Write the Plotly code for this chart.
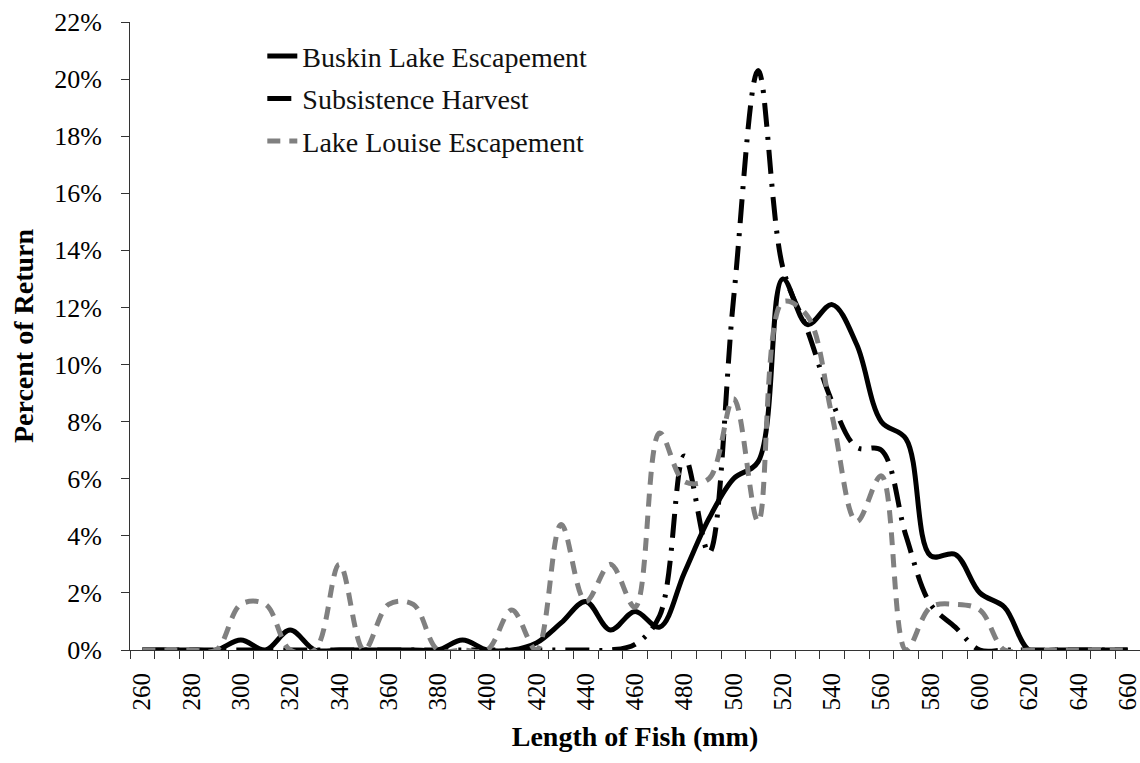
import plotly.graph_objects as go

lengths = [260, 270, 280, 290, 300, 310, 320, 330, 340, 350, 360, 370, 380, 390, 400,
           410, 420, 430, 440, 450, 460, 470, 480, 490, 500, 510, 520, 530, 540, 550,
           560, 570, 580, 590, 600, 610, 620, 630, 640, 650, 660]

buskin = [0, 0, 0, 0, 0.35, 0, 0.7, 0, 0, 0, 0, 0, 0, 0.35, 0,
          0, 0.25, 0.95, 1.7, 0.7, 1.35, 0.8, 2.7, 4.6, 6.0, 6.6, 13.0, 11.4, 12.1, 10.7,
          8.0, 7.4, 3.3, 3.35, 2.0, 1.5, 0, 0, 0, 0, 0]

subsistence = [0, 0, 0, 0, 0, 0, 0, 0, 0, 0, 0, 0, 0, 0, 0,
               0, 0, 0, 0, 0, 0.2, 1.2, 6.8, 3.4, 12.3, 20.3, 13.4, 11.2, 8.7, 7.1,
               7.0, 4.0, 1.6, 0.8, 0, 0, 0, 0, 0, 0, 0]

louise = [0, 0, 0, 0, 1.6, 1.6, 0, 0, 3.0, 0, 1.6, 1.6, 0, 0, 0,
          1.4, 0, 4.4, 1.7, 3.0, 1.5, 7.6, 5.9, 6.0, 8.8, 4.5, 12.2, 11.7, 8.2, 4.5,
          6.1, 0, 1.5, 1.6, 1.4, 0, 0, 0, 0, 0, 0]

x_labels = [260, 280, 300, 320, 340, 360, 380, 400, 420, 440, 460, 480, 500, 520,
            540, 560, 580, 600, 620, 640, 660]
y_ticks = [0, 2, 4, 6, 8, 10, 12, 14, 16, 18, 20, 22]
boundaries = [v - 5 for v in lengths] + [lengths[-1] + 5]

FONT = "Liberation Serif"

fig = go.Figure()
fig.add_trace(go.Scatter(x=lengths, y=buskin, mode="lines", name="Buskin Lake Escapement",
                         legendgroup="a",
                         line=dict(color="black", width=5, shape="spline", smoothing=1.0)))
fig.add_trace(go.Scatter(x=lengths, y=subsistence, mode="lines", name="Subsistence Harvest",
                         legendgroup="b",
                         line=dict(color="black", width=5, shape="spline", smoothing=1.0,
                                   dash="24px,10px,3px,10px")))
fig.add_trace(go.Scatter(x=lengths, y=louise, mode="lines", name="Lake Louise Escapement",
                         legendgroup="c",
                         line=dict(color="#808080", width=5, shape="spline", smoothing=1.0,
                                   dash="13px,9px")))

fig.update_layout(
    width=1140, height=763,
    margin=dict(l=130, r=0, t=22, b=113),
    paper_bgcolor="white", plot_bgcolor="white",
    font=dict(family=FONT, size=26, color="black"),
    showlegend=True,
    legend=dict(x=0.131, y=0.985, xanchor="left", yanchor="top",
                font=dict(family=FONT, size=28, color="#111"),
                bgcolor="rgba(0,0,0,0)", traceorder="grouped", tracegroupgap=3),
)

fig.update_xaxes(
    range=[255, 665],
    tickmode="array", tickvals=x_labels, ticktext=[str(v) for v in x_labels],
    ticks="", tickangle=-90, ticklabelstandoff=12, ticklabeloverflow="allow",
    tickfont=dict(family=FONT, size=25, color="black"),
    minor=dict(tickmode="array", tickvals=boundaries, ticks="outside", ticklen=8,
               tickcolor="#333", tickwidth=1, showgrid=False),
    showline=True, linecolor="#333", linewidth=1,
    showgrid=False, zeroline=False, automargin=False,
    title=dict(text="<b>Length of Fish (mm)</b>", standoff=16,
               font=dict(family=FONT, size=28, color="black")),
)

fig.update_yaxes(
    range=[0, 22],
    tickmode="array", tickvals=y_ticks, ticktext=[f"{v}%" for v in y_ticks],
    ticks="outside", ticklen=8, tickcolor="#333", tickwidth=1, ticklabelstandoff=14,
    tickfont=dict(family=FONT, size=26, color="black"),
    showline=True, linecolor="#333", linewidth=1,
    showgrid=False, zeroline=False, automargin=False,
    title=dict(text="<b>Percent of Return</b>", standoff=12,
               font=dict(family=FONT, size=28, color="black")),
)

fig.write_html("out.html", config={"displayModeBar": False},
               post_script="document.body.style.margin='0';")
